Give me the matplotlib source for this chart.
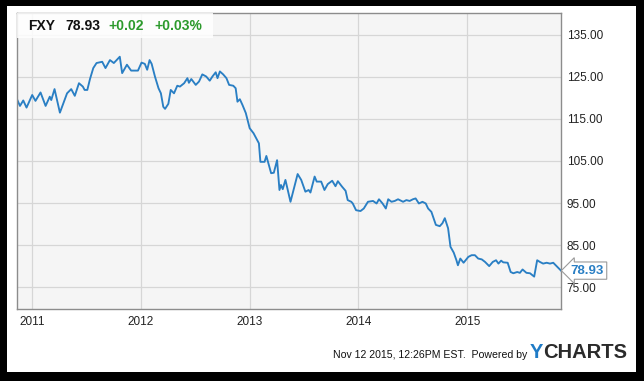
import matplotlib
matplotlib.use("Agg")
import matplotlib.pyplot as plt
import matplotlib.dates as mdates
from matplotlib.patches import Rectangle
import pandas as pd

# FXY price
dates = ['2010-11-12', '2010-11-22', '2010-12-03', '2010-12-14', '2011-01-02', '2011-01-13',
         '2011-01-30', '2011-02-16', '2011-03-02', '2011-03-07', '2011-03-18', '2011-04-05',
         '2011-04-29', '2011-05-13', '2011-05-25', '2011-06-08', '2011-06-21', '2011-06-27',
         '2011-07-06', '2011-07-15', '2011-07-26', '2011-08-06', '2011-08-25', '2011-09-05',
         '2011-09-20', '2011-10-03', '2011-10-23', '2011-10-31', '2011-11-16', '2011-11-30',
         '2011-12-23', '2012-01-04', '2012-01-15', '2012-01-23', '2012-01-31', '2012-02-07',
         '2012-02-18', '2012-03-01', '2012-03-09', '2012-03-17', '2012-03-23', '2012-04-03',
         '2012-04-11', '2012-04-22', '2012-05-03', '2012-05-12', '2012-05-26', '2012-06-06',
         '2012-06-11', '2012-06-19', '2012-07-04', '2012-07-15', '2012-07-26', '2012-08-08',
         '2012-08-20', '2012-08-29', '2012-09-09', '2012-09-15', '2012-09-23', '2012-10-04',
         '2012-10-15', '2012-10-24', '2012-11-07', '2012-11-15', '2012-11-21', '2012-11-29',
         '2012-12-08', '2012-12-19', '2013-01-01', '2013-01-14', '2013-01-23', '2013-02-01',
         '2013-02-06', '2013-02-20', '2013-02-26', '2013-03-14', '2013-03-23', '2013-04-03',
         '2013-04-11', '2013-04-16', '2013-04-22', '2013-05-01', '2013-05-18', '2013-05-31',
         '2013-06-11', '2013-06-23', '2013-07-07', '2013-07-18', '2013-07-24', '2013-08-07',
         '2013-08-14', '2013-08-29', '2013-09-09', '2013-09-20', '2013-10-05', '2013-10-16',
         '2013-10-24', '2013-11-07', '2013-11-19', '2013-11-26', '2013-12-08', '2013-12-13',
         '2013-12-24', '2014-01-08', '2014-01-19', '2014-02-02', '2014-02-19', '2014-03-03',
         '2014-03-11', '2014-03-23', '2014-04-03', '2014-04-11', '2014-04-22', '2014-05-03',
         '2014-05-14', '2014-05-31', '2014-06-11', '2014-06-22', '2014-07-03', '2014-07-12',
         '2014-07-23', '2014-08-04', '2014-08-15', '2014-08-23', '2014-09-03', '2014-09-18',
         '2014-10-01', '2014-10-10', '2014-10-18', '2014-10-29', '2014-11-06', '2014-11-17',
         '2014-11-26', '2014-12-01', '2014-12-09', '2014-12-20', '2015-01-05', '2015-01-16',
         '2015-01-27', '2015-02-07', '2015-02-19', '2015-03-02', '2015-03-16', '2015-03-28',
         '2015-04-08', '2015-04-16', '2015-04-25', '2015-05-02', '2015-05-17', '2015-05-27',
         '2015-06-05', '2015-06-18', '2015-06-27', '2015-07-06', '2015-07-19', '2015-07-31',
         '2015-08-14', '2015-08-24', '2015-09-02', '2015-09-13', '2015-09-25', '2015-10-06',
         '2015-10-17', '2015-10-28', '2015-11-12']
prices = [119.7, 118.1, 119.4, 117.7, 120.7, 119.3,
          121.3, 118.1, 120.3, 119.5, 122.1, 116.5,
          121.1, 122.1, 120.5, 123.5, 122.7, 121.9,
          121.9, 124.5, 127.1, 128.3, 128.6, 127.1,
          129.0, 128.3, 129.8, 125.9, 127.9, 126.5,
          126.5, 128.4, 128.1, 126.7, 129.0, 128.1,
          125.1, 122.3, 121.1, 117.9, 117.4, 118.6,
          121.9, 121.1, 122.9, 122.7, 123.5, 124.7,
          123.6, 124.5, 123.1, 123.9, 125.6, 125.1,
          124.1, 125.1, 126.1, 124.7, 126.3, 125.6,
          124.7, 123.1, 122.9, 122.3, 119.1, 119.7,
          118.3, 116.4, 112.8, 111.6, 110.4, 109.2,
          104.8, 104.8, 106.2, 102.1, 102.2, 105.2,
          98.1, 99.3, 98.3, 100.5, 95.3, 98.9,
          101.9, 100.5, 97.7, 98.1, 97.5, 101.3,
          100.1, 100.1, 98.1, 99.5, 100.3, 99.0,
          100.2, 98.9, 97.9, 95.7, 95.3, 94.9,
          93.3, 93.1, 93.7, 95.3, 95.5, 94.9,
          95.9, 94.9, 93.7, 95.9, 95.3, 95.5,
          95.9, 95.3, 95.7, 95.5, 95.9, 96.1,
          94.9, 95.3, 94.9, 93.7, 92.9, 89.8,
          89.5, 90.2, 91.4, 89.0, 84.6, 83.2,
          81.4, 80.2, 81.8, 80.8, 82.2, 82.6,
          82.6, 81.8, 81.6, 81.0, 80.0, 81.0,
          81.4, 80.6, 81.3, 80.9, 80.8, 78.6,
          78.3, 78.6, 78.4, 79.2, 78.4, 78.3,
          77.5, 81.4, 81.0, 80.6, 80.8, 80.6,
          80.8, 80.0, 78.93]
y_ticks = [75, 85, 95, 105, 115, 125, 135]
ticker = "FXY"
last = "78.93"
change = "+0.02"
change_pct = "+0.03%"
stamp = "Nov 12 2015, 12:26PM EST.  Powered by"

W, H = 644, 381
plt.rcParams['font.family'] = ['Liberation Sans', 'DejaVu Sans']
fig = plt.figure(figsize=(W / 100, H / 100), dpi=100)
fig.patch.set_facecolor('black')

def fx(px):
    return px / W

def fy(py):
    return 1 - py / H

# white card inside the black frame
fig.patches.append(Rectangle((fx(7), fy(372)), fx(636) - fx(7), fy(6) - fy(372),
                             transform=fig.transFigure, facecolor='white',
                             edgecolor='none', zorder=-10))

ax = fig.add_axes([fx(17), fy(309), fx(561) - fx(17), fy(13) - fy(309)])
ax.set_zorder(1)
ax.set_facecolor('#f5f5f5')

x = pd.to_datetime(dates)
ax.plot(x, prices, color='#2a7fc4', lw=1.35, zorder=2)

ax.set_xlim(pd.Timestamp('2010-11-12'), pd.Timestamp('2015-11-12'))
ax.set_ylim(69.8, 140.2)
ax.xaxis.set_major_locator(mdates.YearLocator())
ax.xaxis.set_major_formatter(mdates.DateFormatter('%Y'))
ax.set_yticks(y_ticks)
ax.set_yticklabels(['%.2f' % v for v in y_ticks])
ax.yaxis.tick_right()
ax.tick_params(axis='y', length=0, pad=4, labelsize=8.5, labelcolor='#222222')
ax.tick_params(axis='x', length=0, pad=5, labelsize=8.5, labelcolor='#222222')
for lab in ax.get_yticklabels():
    lab.set_horizontalalignment('left')
ax.grid(True, color='#d6d6d6', lw=0.9)
ax.set_axisbelow(True)
for s in ax.spines.values():
    s.set_color('#8c8c8c')
    s.set_linewidth(1)

# header box
ax.add_patch(Rectangle((0, 1 - 25 / 296), 196 / 544, 25 / 296, transform=ax.transAxes,
                       facecolor='white', edgecolor='none', alpha=0.85, zorder=3))
fig.text(fx(28), fy(26), ticker, fontsize=10, weight='bold', color='#111111', va='center', zorder=5)
fig.text(fx(65), fy(26), last, fontsize=10, weight='bold', color='#111111', va='center', zorder=5)
fig.text(fx(108), fy(26), change, fontsize=10, weight='bold', color='#2c9a2c', va='center', zorder=5)
fig.text(fx(154), fy(26), change_pct, fontsize=10, weight='bold', color='#2c9a2c', va='center', zorder=5)

# last value tag
ax.annotate(last, xy=(1, prices[-1]), xycoords=('axes fraction', 'data'),
            xytext=(7, 0), textcoords='offset points', va='center', ha='left',
            fontsize=9.5, weight='bold', color='#2a7fc4', annotation_clip=False,
            bbox=dict(boxstyle='larrow,pad=0.2', fc='white', ec='#9a9a9a', lw=0.8))

# footer
fig.text(fx(527), fy(355), stamp, fontsize=7.6, color='#111111', ha='right', va='center')
fig.text(fx(530), fy(353), "Y", fontsize=14.5, weight='bold', color='#1f7bc6', va='center')
fig.text(fx(543), fy(353), "CHARTS", fontsize=14.5, weight='bold', color='#2b2b2b', va='center')

fig.savefig('out.png', dpi=100, facecolor=fig.get_facecolor())
